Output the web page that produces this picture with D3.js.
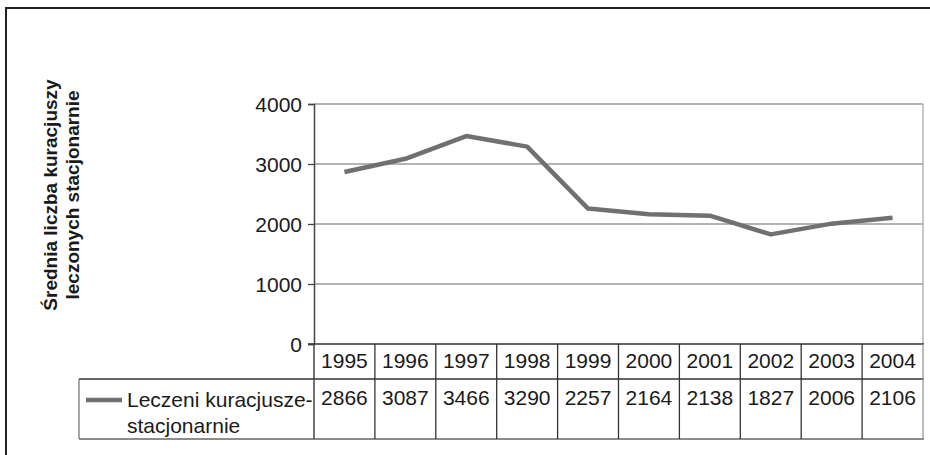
<!DOCTYPE html>
<html>
<head>
<meta charset="utf-8">
<script src="https://cdn.jsdelivr.net/npm/d3@7"></script>
<style>
  body { margin: 0; background: #fff; }
  text { font-family: "Liberation Sans", Arial, sans-serif; fill: #1a1a1a; }
</style>
</head>
<body>
<script>
const years = ["1995", "1996", "1997", "1998", "1999", "2000", "2001", "2002", "2003", "2004"]
const values = [2866, 3087, 3466, 3290, 2257, 2164, 2138, 1827, 2006, 2106]
const yTicks = [0, 1000, 2000, 3000, 4000]
const seriesName = ["Leczeni kuracjusze-", "stacjonarnie"]
const titleLines = ["Średnia liczba kuracjuszy", "leczonych stacjonarnie"]

const W = 930, H = 455
const plot = { left: 314, right: 923, top: 104, bottom: 344 }
const table = { left: 79, yearRow: 379, bottom: 439 }
const fontSize = "21px"

const svg = d3.select("body").append("svg")
  .attr("width", W)
  .attr("height", H)

svg.append("rect").attr("width", W).attr("height", H).style("fill", "#fff")

// outer chart border (clipped at right and bottom)
svg.append("rect")
  .attr("x", 6).attr("y", 8)
  .attr("width", 940).attr("height", 470)
  .style("fill", "none")
  .style("stroke", "#222")
  .style("stroke-width", 2)

const x = d3.scaleBand().domain(years).range([plot.left, plot.right])
const y = d3.scaleLinear().domain([0, 4000]).range([plot.bottom, plot.top])

// grid
svg.append("g")
  .selectAll("line")
  .data(yTicks.filter(d => d > 0))
  .join("line")
  .attr("x1", plot.left).attr("x2", plot.right)
  .attr("y1", d => y(d)).attr("y2", d => y(d))
  .style("stroke", "#9a9a9a")
  .style("stroke-width", 1.3)

// plot area right border
svg.append("line")
  .attr("x1", plot.right).attr("x2", plot.right)
  .attr("y1", plot.top).attr("y2", plot.bottom)
  .style("stroke", "#aaa")
  .style("stroke-width", 1.3)

// y axis
const yAxis = svg.append("g")
  .attr("transform", `translate(${plot.left},0)`)
  .call(d3.axisLeft(y).tickValues(yTicks).tickFormat(d3.format("d")).tickSize(6).tickPadding(6))
yAxis.select(".domain").style("stroke", "#444").style("stroke-width", 1.5)
yAxis.selectAll(".tick line").style("stroke", "#444").style("stroke-width", 1.3)
yAxis.selectAll(".tick text")
  .attr("dy", "0.36em")
  .style("font-size", fontSize)
  .style("font-family", "'Liberation Sans', Arial, sans-serif")
  .style("fill", "#1a1a1a")

// axis line at 0 / table top
svg.append("line")
  .attr("x1", plot.left - 6).attr("x2", plot.right + 1)
  .attr("y1", plot.bottom).attr("y2", plot.bottom)
  .style("stroke", "#333")
  .style("stroke-width", 1.5)

// title
const title = svg.append("text")
  .attr("transform", "translate(0,195) rotate(-90)")
  .attr("text-anchor", "middle")
  .style("font-size", "19px")
  .style("font-weight", "bold")
titleLines.forEach((t, i) => {
  title.append("tspan").attr("x", 0).attr("y", 57 + i * 22).text(t)
})

// line
const line = d3.line()
  .x((d, i) => x(years[i]) + x.bandwidth() / 2)
  .y(d => y(d))

svg.append("path")
  .datum(values)
  .attr("d", line)
  .style("fill", "none")
  .style("stroke", "#707070")
  .style("stroke-width", 4.5)
  .style("stroke-linejoin", "round")

// data table
const grid = svg.append("g")
grid.append("line")
  .attr("x1", table.left).attr("x2", plot.right + 1)
  .attr("y1", table.yearRow).attr("y2", table.yearRow)
  .style("stroke", "#333").style("stroke-width", 1.3)
grid.append("line")
  .attr("x1", table.left).attr("x2", plot.right + 1)
  .attr("y1", table.bottom).attr("y2", table.bottom)
  .style("stroke", "#666").style("stroke-width", 1.3)
grid.append("line")
  .attr("x1", table.left).attr("x2", table.left)
  .attr("y1", table.yearRow).attr("y2", table.bottom)
  .style("stroke", "#777").style("stroke-width", 1.3)

grid.selectAll(".col")
  .data(years.slice(1))
  .join("line")
  .attr("class", "col")
  .attr("x1", d => x(d)).attr("x2", d => x(d))
  .attr("y1", plot.bottom).attr("y2", table.bottom)
  .style("stroke", "#333").style("stroke-width", 1.3)

grid.append("line")
  .attr("x1", plot.left).attr("x2", plot.left)
  .attr("y1", plot.bottom).attr("y2", table.bottom)
  .style("stroke", "#444").style("stroke-width", 1.5)
grid.append("line")
  .attr("x1", plot.right).attr("x2", plot.right)
  .attr("y1", plot.bottom).attr("y2", table.bottom)
  .style("stroke", "#999").style("stroke-width", 1.3)

svg.append("g")
  .selectAll("text")
  .data(years)
  .join("text")
  .attr("x", d => x(d) + x.bandwidth() / 2)
  .attr("y", 368)
  .attr("text-anchor", "middle")
  .style("font-size", fontSize)
  .text(d => d)

svg.append("g")
  .selectAll("text")
  .data(values)
  .join("text")
  .attr("x", (d, i) => x(years[i]) + x.bandwidth() / 2)
  .attr("y", 405)
  .attr("text-anchor", "middle")
  .style("font-size", fontSize)
  .text(d => d)

// legend key
svg.append("line")
  .attr("x1", 86).attr("x2", 122)
  .attr("y1", 400).attr("y2", 400)
  .style("stroke", "#707070")
  .style("stroke-width", 4.5)

const legend = svg.append("text").style("font-size", fontSize)
seriesName.forEach((t, i) => {
  legend.append("tspan").attr("x", 127).attr("y", 407 + i * 26).text(t)
})
</script>
</body>
</html>
